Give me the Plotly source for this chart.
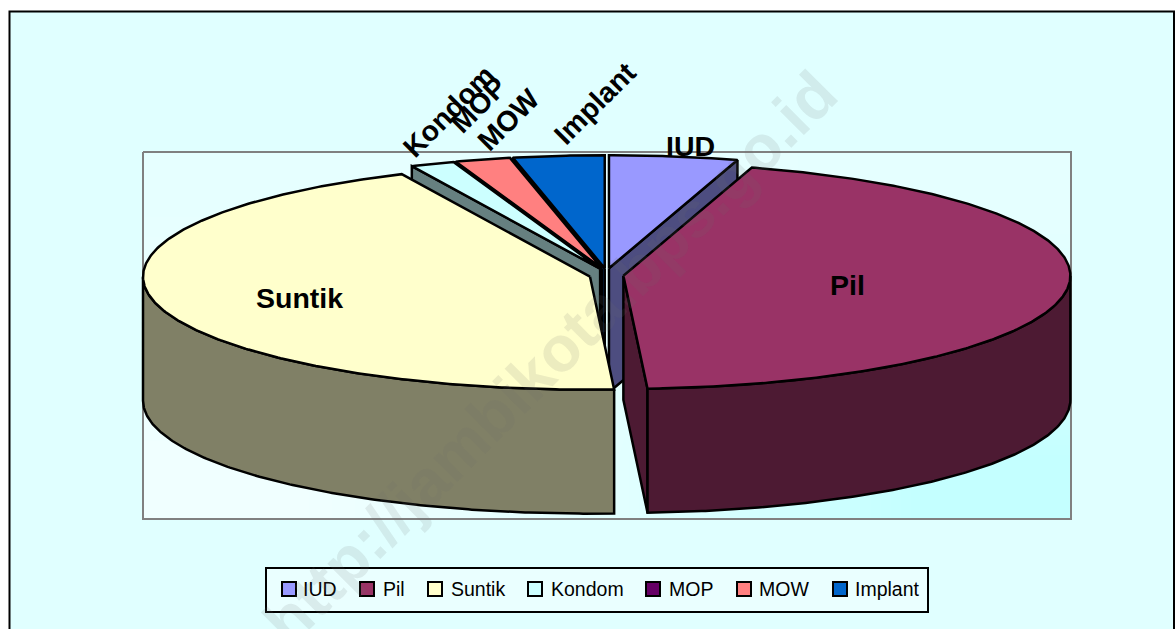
import numpy as np
import plotly.graph_objects as go

# ---- data ----
categories = ["IUD", "Pil", "Suntik", "Kondom", "MOP", "MOW", "Implant"]
values = [4.64, 44.5, 43.94, 1.6, 0.02, 2.0, 3.3]
face_colors = ["#9999FF", "#993366", "#FFFFCC", "#CCFFFF", "#660066", "#FF8080", "#0066CC"]
wall_colors = ["#4D4D80", "#4D1A33", "#808066", "#668080", "#330033", "#804040", "#003366"]
draw_order = ["IUD", "Implant", "MOW", "MOP", "Kondom", "Suntik", "Pil"]

# ---- pie projection ----
CX, CY = 606.5, 275.0
RX, RY = 447.0, 113.0
DEPTH = 124.0
EXPLODE, EXPLODE_K = 17.0, 0.4

vals = np.array(values, dtype=float)
ends = np.cumsum(vals) / vals.sum() * 360.0
starts = np.concatenate([[0.0], ends[:-1]])

fig = go.Figure()

# plot-area gradient
fig.add_trace(go.Heatmap(
    x=[143, 450, 760, 1071], y=[152, 274, 396, 519],
    z=[[0.22, 0.22, 0.25], [0.08, 0.25, 0.45], [0.0, 0.3, 1.0]], zmin=0, zmax=1,
    zsmooth="best", showscale=False, hoverinfo="skip",
    colorscale=[[0, "#F0FFFF"], [1, "#C4FFFF"]],
))
fig.add_trace(go.Scatter(
    x=[143, 1071, 1071, 143, 143], y=[152, 152, 519, 519, 152], mode="lines",
    line=dict(color="#808080", width=2), hoverinfo="skip", showlegend=False,
))


def poly(xs, ys, color, name):
    fig.add_trace(go.Scatter(
        x=xs, y=ys, mode="lines", fill="toself", fillcolor=color,
        line=dict(color="black", width=2.5, shape="linear"),
        name=name, showlegend=False, hoverinfo="name",
    ))


def arc(ax, ay, t0, t1):
    t = np.radians(np.linspace(t0, t1, max(3, int(abs(t1 - t0) * 2) + 2)))
    return ax + RX * np.sin(t), ay - RY * np.cos(t)


for name in draw_order:
    i = categories.index(name)
    s, e = starts[i], ends[i]
    mid = np.radians((s + e) / 2)
    ax = CX + EXPLODE * np.sin(mid)
    ay = CY - EXPLODE * EXPLODE_K * np.cos(mid)
    # radial walls that face the viewer
    for t, visible in ((s, np.sin(np.radians(s)) < -1e-6), (e, np.sin(np.radians(e)) > 1e-6)):
        if visible:
            ox, oy = arc(ax, ay, t, t)
            px, py = ox[0], oy[0]
            poly([ax, px, px, ax, ax], [ay, py, py + DEPTH, ay + DEPTH, ay], wall_colors[i], name)
    # outer wall on the near side
    w0, w1 = max(s, 90.0), min(e, 270.0)
    if w1 > w0:
        xa, ya = arc(ax, ay, w0, w1)
        poly(np.r_[xa, xa[::-1], xa[0]], np.r_[ya, ya[::-1] + DEPTH, ya[0]], wall_colors[i], name)
    # top face
    xa, ya = arc(ax, ay, s, e)
    poly(np.r_[ax, xa, ax], np.r_[ay, ya, ay], face_colors[i], name)

# data labels
label_pos = {
    "IUD": (690, 146, 0), "Pil": (847, 285, 0), "Suntik": (299, 298, 0),
    "Kondom": (449, 111, -45), "MOP": (478, 105, -45), "MOW": (508, 120, -45), "Implant": (595, 103, -45),
}
annotations = []
for c in categories:
    x, y, rot = label_pos[c]
    annotations.append(dict(x=x, y=y, xref="x", yref="y", text=f"<b>{c}</b>", showarrow=False,
                            textangle=rot, font=dict(family="Liberation Sans", size=28.5, color="black")))

# legend
legend_swatch_x = [289, 367, 435, 535, 653, 744, 840]
legend_text_x = [301, 381, 449, 549, 667, 757, 853]
LEG_Y = 589
for c, col, sx, tx in zip(categories, face_colors, legend_swatch_x, legend_text_x):
    fig.add_trace(go.Scatter(
        x=[sx], y=[LEG_Y], mode="markers", hoverinfo="name", name=c, showlegend=False,
        marker=dict(symbol="square", size=14, color=col, line=dict(color="black", width=2)),
    ))
    annotations.append(dict(x=tx, y=LEG_Y, xref="x", yref="y", text=c, showarrow=False, xanchor="left",
                            font=dict(family="Liberation Sans", size=19.5, color="black")))

# watermark
annotations.append(dict(x=550, y=358, xref="x", yref="y", text="<b>http://jambikota.bps.go.id</b>",
                        showarrow=False, textangle=-45,
                        font=dict(family="Liberation Sans", size=64, color="rgba(110,110,110,0.13)")))

fig.update_layout(
    width=1176, height=629, margin=dict(l=0, r=0, t=0, b=0),
    paper_bgcolor="white", plot_bgcolor="white", showlegend=False,
    xaxis=dict(range=[0, 1176], visible=False, fixedrange=True),
    yaxis=dict(range=[629, 0], visible=False, fixedrange=True),
    annotations=annotations,
    shapes=[
        dict(type="rect", layer="below", x0=9.5, y0=11.5, x1=1174, y1=660,
             fillcolor="#E0FFFF", line=dict(color="black", width=2)),
        dict(type="rect", layer="below", x0=266, y0=568, x1=928, y1=612,
             fillcolor="#EAFFFF", line=dict(color="black", width=2)),
    ],
)
fig.write_html("out.html", config={"displayModeBar": False},
               post_script="document.body.style.margin='0';document.documentElement.style.overflow='hidden';")
